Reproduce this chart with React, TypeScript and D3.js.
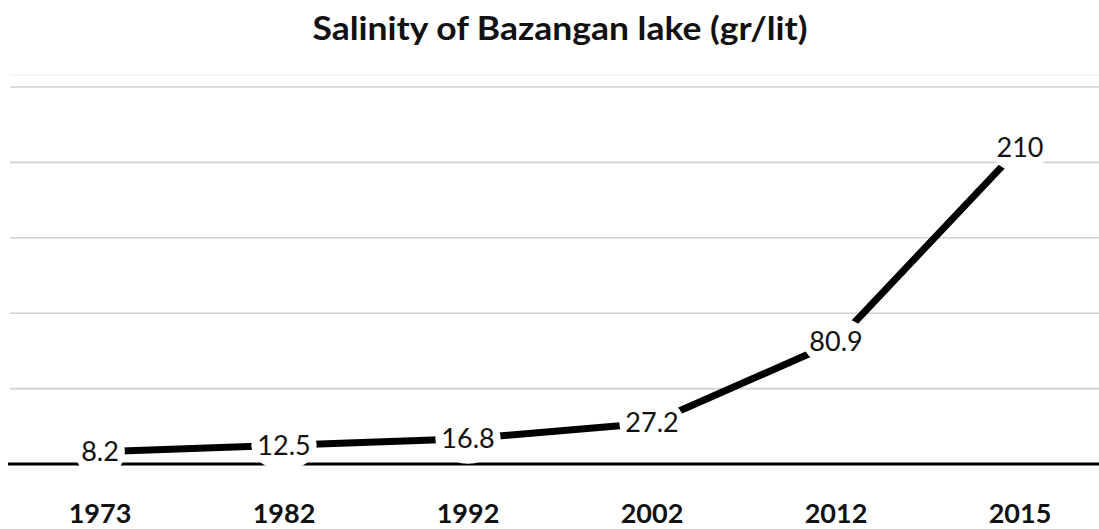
import React from "react";
import * as d3 from "d3";

const years = ["1973", "1982", "1992", "2002", "2012", "2015"];
const salinity = [8.2, 12.5, 16.8, 27.2, 80.9, 210];
const labels = ["8.2", "12.5", "16.8", "27.2", "80.9", "210"];
const yTicks = [0, 50, 100, 150, 200, 250];
const title = "Salinity of Bazangan lake (gr/lit)";

const W = 1099;
const H = 529;
const FONT = "Lato, 'Open Sans', sans-serif";
const LABEL_SIZE = 27;

function measure(text: string, font: string): number {
  if (typeof document === "undefined") return text.length * 15;
  const c = document.createElement("canvas");
  const ctx = c.getContext("2d");
  if (!ctx) return text.length * 15;
  ctx.font = font;
  return ctx.measureText(text).width;
}

export default function App() {
  const x = d3.scalePoint<string>().domain(years).range([8, 1112]).padding(0.5);
  const y = d3.scaleLinear().domain([0, 250]).range([464, 87]);
  const pts = years.map((yr, i) => [x(yr) as number, y(salinity[i])] as [number, number]);
  const line = d3.line<[number, number]>().x((d) => d[0]).y((d) => d[1]);

  return (
    <svg
      width={W}
      height={H}
      style={{ position: "absolute", left: 0, top: 0, background: "#fff" }}
    >
      <rect x={0} y={0} width={W} height={H} fill="#fff" />
      <text
        x={560}
        y={40}
        textAnchor="middle"
        fontFamily={FONT}
        fontSize={32}
        fontWeight={700}
        fill="#111"
        textLength={495}
        lengthAdjust="spacingAndGlyphs"
      >
        {title}
      </text>
      <line x1={10} x2={W} y1={75} y2={75} stroke="#f1f1f1" strokeWidth={1.5} />
      {yTicks.slice(1).map((t) => (
        <line key={t} x1={10} x2={W} y1={y(t)} y2={y(t)} stroke="#cfcfcf" strokeWidth={1.6} />
      ))}
      <line x1={8} x2={W} y1={y(0)} y2={y(0)} stroke="#000" strokeWidth={3} />
      <path d={line(pts) || ""} fill="none" stroke="#000" strokeWidth={7} strokeLinejoin="round" />
      {pts.map((p, i) => {
        const w = measure(labels[i], `${LABEL_SIZE}px ${FONT}`);
        return (
          <ellipse key={"m" + i} cx={p[0]} cy={p[1]} rx={w / 2 + 6} ry={25} fill="#fff" />
        );
      })}
      {pts.map((p, i) => (
        <text
          key={"l" + i}
          x={p[0]}
          y={p[1]}
          dy="0.35em"
          textAnchor="middle"
          fontFamily={FONT}
          fontSize={LABEL_SIZE}
          fill="#111"
        >
          {labels[i]}
        </text>
      ))}
      {years.map((yr) => (
        <text
          key={yr}
          x={x(yr) as number}
          y={523}
          textAnchor="middle"
          fontFamily={FONT}
          fontSize={27}
          fontWeight="bold"
          fill="#111"
        >
          {yr}
        </text>
      ))}
    </svg>
  );
}
